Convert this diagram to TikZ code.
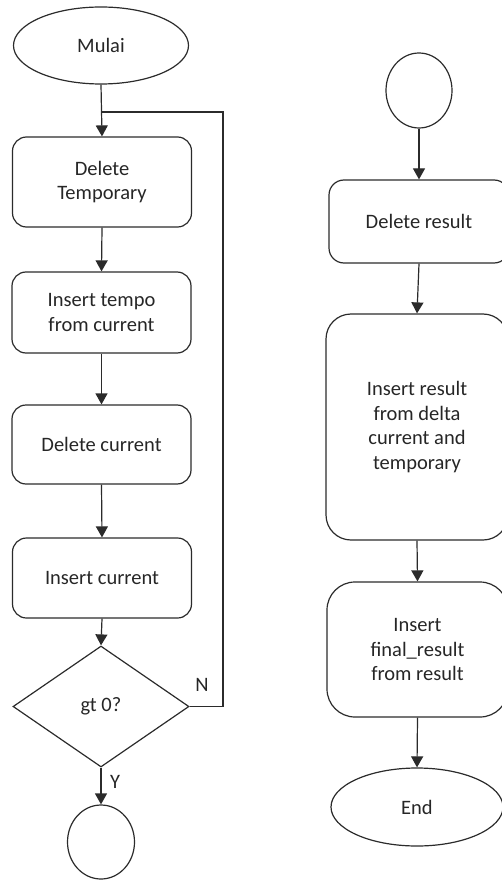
\documentclass[tikz,border=0pt]{standalone}
\usepackage{fontspec}
\setmainfont{Carlito}
\usetikzlibrary{shapes.geometric,arrows.meta}
\definecolor{ink}{HTML}{2B2B2B}
\definecolor{txt}{HTML}{262626}
\tikzset{
  base/.style={draw=ink, line width=1.2pt, text=txt, inner sep=0pt,
    font=\fontsize{20.5}{24.5}\selectfont, align=center},
  procbox/.style={base, rectangle, minimum width=#1},
  term/.style={base, ellipse},
  decide/.style={base, diamond, aspect=1.45},
  flow/.style={draw=ink, line width=1.2pt, -{Triangle[width=12pt,length=11pt]}},
  loopline/.style={draw=ink, line width=1.2pt},
  lbl/.style={text=txt, font=\fontsize{20.5}{24.5}\selectfont, inner sep=0pt}
}
\begin{document}
\begin{tikzpicture}[x=1pt,y=-1pt]
\useasboundingbox (0,0) rectangle (501,882);

% left column
\node[term, minimum width=175pt, minimum height=77pt] (mulai) at (101,45.5) {Mulai};
\node[procbox=179pt, minimum height=90pt, rounded corners=14pt] (deltemp) at (102,182) {Delete\\Temporary};
\node[procbox=179pt, minimum height=81pt, rounded corners=14pt] (instempo) at (101.5,312.5) {Insert tempo\\from current};
\node[procbox=179pt, minimum height=79pt, rounded corners=14pt] (delcur) at (101.5,444.5) {Delete current};
\node[procbox=179pt, minimum height=80pt, rounded corners=14pt] (inscur) at (102,578) {Insert current};
\node[decide, minimum width=176pt, minimum height=121pt] (gt) at (101,706.5) {gt 0?};
\node[term, minimum width=67pt, minimum height=74pt] (conA) at (101,842) {};

\coordinate (join) at (101,112);
\coordinate (loopTop) at (223,112);
\coordinate (loopBot) at (223,706.5);

\draw[flow] (mulai.south) -- (deltemp.north);
\draw[loopline] (gt.east) -- (loopBot) -- (loopTop) -- (join);
\draw[flow] (deltemp.south) -- (instempo.north);
\draw[flow] (instempo.south) -- (delcur.north);
\draw[flow] (delcur.south) -- (inscur.north);
\draw[flow] (inscur.south) -- (gt.north);
\draw[flow] (gt.south) -- (conA.north);

\node[lbl] (lblN) at (202,685) {N};
\node[lbl] (lblY) at (115,782) {Y};

% right column
\node[term, minimum width=66pt, minimum height=75pt] (conB) at (419,90.5) {};
\node[procbox=180pt, minimum height=83pt, rounded corners=15pt] (delres) at (419,221.5) {Delete result};
\node[procbox=182pt, minimum height=226pt, rounded corners=25pt] (insres) at (417,427) {Insert result\\from delta\\current and\\temporary};
\node[procbox=181pt, minimum height=135pt, rounded corners=28pt] (insfin) at (417.5,649.5) {Insert\\final\_result\\from result};
\node[term, minimum width=172pt, minimum height=78pt] (finish) at (417,807) {End};

\draw[flow] (conB.south) -- (delres.north);
\draw[flow] (delres.south) -- (insres.north);
\draw[flow] (insres.south) -- (insfin.north);
\draw[flow] (insfin.south) -- (finish.north);
\end{tikzpicture}
\end{document}
